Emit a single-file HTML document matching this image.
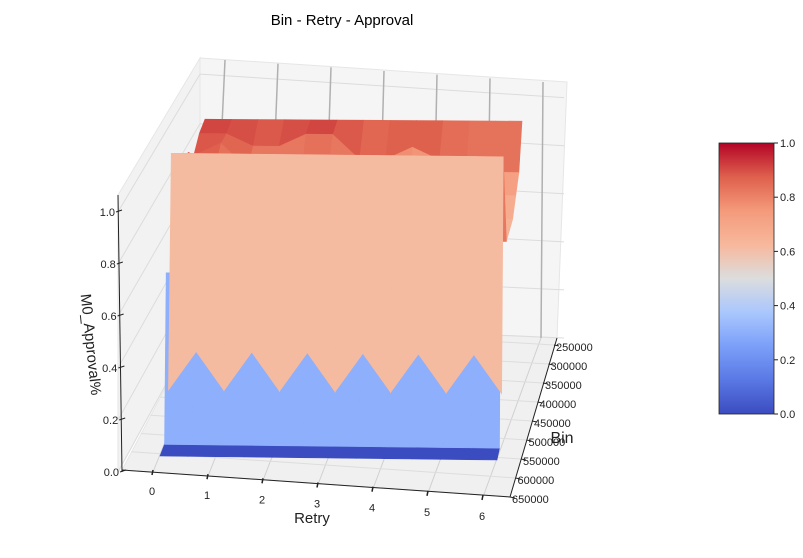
<!DOCTYPE html>
<html><head><meta charset="utf-8"><style>
body{margin:0;background:#fff;}
svg{display:block;font-family:"Liberation Sans","DejaVu Sans",sans-serif;}
</style></head><body>
<svg id="chart" width="803" height="558" viewBox="0 0 803 558">
<defs>
<linearGradient id="cw" x1="0" y1="1" x2="0" y2="0">
<stop offset="0" stop-color="#3b4cc0"/><stop offset="0.125" stop-color="#5a78e4"/><stop offset="0.25" stop-color="#7b9ff9"/><stop offset="0.375" stop-color="#aac7fd"/><stop offset="0.5" stop-color="#dcdddd"/><stop offset="0.625" stop-color="#f7b89c"/><stop offset="0.75" stop-color="#f49a7b"/><stop offset="0.875" stop-color="#de604d"/><stop offset="1" stop-color="#b40426"/>
</linearGradient>
</defs>
<text x="342" y="25" font-size="15" text-anchor="middle">Bin - Retry - Approval</text>
<g id="pane">
<polygon points="118,472 118,195 200,58 200,322" fill="#f2f2f2" stroke="#e6e6e6"/>
<polygon points="200,58 567,82 557,338 200,322" fill="#f5f5f5" stroke="#e6e6e6"/>
<polygon points="122,470 510,497 557,338 200,322" fill="#f0f0f0" stroke="#e6e6e6"/>
</g>
<g id="grid"></g>
<g id="surface"></g>
<g id="axes"></g>
<rect x="719" y="143" width="55" height="271" fill="url(#cw)" stroke="#222" stroke-width="0.8"/>
<g id="cbticks"></g>
<text x="312" y="523" font-size="15" text-anchor="middle" fill="#222">Retry</text>
<text x="562" y="443" font-size="16" text-anchor="middle" fill="#222">Bin</text>
<text x="0" y="0" font-size="15" text-anchor="middle" fill="#222" transform="translate(86,345) rotate(84)">M0_Approval%</text>
</svg>
<script>
const retries = [0,0.5,1,1.5,2,2.5,3,3.5,4,4.5,5,5.5,6];
const bins = [250000,300000,350000,400000,450000,500000,550000,575000,595000,610000,650000];
const approvalRow250 = [0.92,0.92,0.92,0.92,0.92,0.92,0.92,0.92,0.92,0.92,0.92,0.92,0.92];
const approvalRow300 = [0.9,0.9,0.85,0.85,0.9,0.9,0.8,0.8,0.85,0.8,0.75,0.75,0.75];
const approvalRow350 = [0.85,0.9,0.8,0.8,0.75,0.8,0.8,0.75,0.7,0.7,0.7,0.7,0.7];
const approvalRow400 = [0.9,0.85,0.8,0.8,0.75,0.7,0.7,0.7,0.7,0.65,0.65,0.65,0.65];
const approvalRow450 = [0.85,0.85,0.8,0.75,0.7,0.7,0.7,0.7,0.7,0.65,0.65,0.65,0.65];
const approvalRow500 = [0.7,0.7,0.7,0.7,0.7,0.7,0.7,0.7,0.7,0.65,0.65,0.65,0.65];
const approvalRow550 = [1,1,1,1,1,1,1,1,1,1,1,1,1];
const approvalRow575 = [0.16,0.3,0.16,0.3,0.16,0.3,0.16,0.3,0.16,0.3,0.16,0.3,0.16];
const approvalRow595 = [0.6,0.6,0.6,0.6,0.6,0.6,0.6,0.6,0.6,0.6,0.6,0.6,0.6];
const approvalRow610 = [0,0,0,0,0,0,0,0,0,0,0,0,0];
const approvalRow650 = [0,0,0,0,0,0,0,0,0,0,0,0,0];
const retryTicks = [0,1,2,3,4,5,6];
const zTicks = [0.0,0.2,0.4,0.6,0.8,1.0];
const zTickLabels = ["0.0","0.2","0.4","0.6","0.8","1.0"];
const binTicks = [250000,300000,350000,400000,450000,500000,550000,600000,650000];
const binTickLabels = ["250000","300000","350000","400000","450000","500000","550000","600000","650000"];
const cbTicks = [0.0,0.2,0.4,0.6,0.8,1.0];

const grid = [approvalRow250,approvalRow300,approvalRow350,approvalRow400,approvalRow450,approvalRow500,approvalRow550,approvalRow575,approvalRow595,approvalRow610,approvalRow650];
const NS='http://www.w3.org/2000/svg';
function mk(tag,attrs,parent){const e=document.createElementNS(NS,tag);for(const k in attrs)e.setAttribute(k,attrs[k]);parent.appendChild(e);return e;}
const bMin=250000,bMax=650000,rMax=6;
function proj(r,b,z){
  const u=r/rMax, t=(bMax-b)/(bMax-bMin);
  const fx=160+(497-160)*u, fy=456+(460-456)*u;
  const bx=205+(522-205)*u, by=340+(342-340)*u;
  const x=fx+(bx-fx)*t, y=fy+(by-fy)*t;
  const zs=285-45*t;
  return [x,y-z*zs];
}
const stops=[[0,[59,76,192]],[0.125,[90,120,228]],[0.25,[123,159,249]],[0.375,[170,199,253]],[0.5,[220,221,221]],[0.625,[247,184,156]],[0.75,[244,154,123]],[0.875,[222,96,77]],[1,[180,4,38]]];
function cw(v){v=Math.max(0,Math.min(1,v));for(let i=1;i<stops.length;i++){if(v<=stops[i][0]){const a=stops[i-1],b=stops[i],f=(v-a[0])/(b[0]-a[0]);const c=a[1].map((x,j)=>Math.round(x+(b[1][j]-x)*f));return `rgb(${c[0]},${c[1]},${c[2]})`;}}return 'rgb(180,4,38)';}

// grid lines
const g=document.getElementById('grid');
const zFrontL=[472,195], zBackL=[322,58], zBackR=[338,82];
zTicks.forEach(z=>{
  const f=z/1.065;
  const yl=zFrontL[0]+(zFrontL[1]-zFrontL[0])*f, yb=zBackL[0]+(zBackL[1]-zBackL[0])*f, yr=zBackR[0]+(zBackR[1]-zBackR[0])*f;
  let l=mk('line',{x1:118,y1:yl,x2:200,y2:yb,stroke:'#dcdcdc','stroke-width':1},g);
  
  
  l=mk('line',{x1:200,y1:yb,x2:564,y2:yr,stroke:'#dcdcdc','stroke-width':1},g);
  
  
});
retryTicks.forEach(r=>{
  const u=r/rMax;
  const xt=225+(543-225)*u, yt=60+(82-60)*u;
  const xf=153+(483-153)*u, yf=472+(497-472)*u;
  const xb=213+(541-213)*u, yb=322+(338-322)*u;
  let l=mk('line',{x1:xt,y1:yt,x2:xb,y2:yb,stroke:'#b0b0b0','stroke-width':1.5},g);
  
  
  l=mk('line',{x1:xb,y1:yb,x2:xf,y2:yf,stroke:'#d0d0d0','stroke-width':1},g);
  
  
});
binTicks.forEach(b=>{
  const t=(bMax-b)/(bMax-bMin);
  const xr=510+(554-510)*t, yr=497+(345-497)*t;
  const xl=122+(198-122)*t, yl=470+(324-470)*t;
  const l=mk('line',{x1:xl,y1:yl,x2:xr,y2:yr,stroke:'#dddddd','stroke-width':1},g);
  
  
});

// surface: sort cells by view depth (camera elevated, higher z = nearer)
const s=document.getElementById('surface');
const cells=[];
for(let i=0;i<bins.length-1;i++){
  for(let j=0;j<retries.length-1;j++){
    const z00=grid[i][j],z01=grid[i][j+1],z10=grid[i+1][j],z11=grid[i+1][j+1];
    const pts=[proj(retries[j],bins[i],z00),proj(retries[j+1],bins[i],z01),proj(retries[j+1],bins[i+1],z11),proj(retries[j],bins[i+1],z10)];
    const zm=(z00+z01+z10+z11)/4;
    const tm=(bMax-(bins[i]+bins[i+1])/2)/(bMax-bMin);
    cells.push({pts,zm,key:0.9*tm-0.3*zm});
  }
}
cells.sort((a,b)=>b.key-a.key);
cells.forEach(c=>{
  const col=cw(c.zm);
  const p=mk('polygon',{points:c.pts.map(q=>q.join(',')).join(' '),fill:col,stroke:col,'stroke-width':0.6},s);
  
  
});

// axes
const a=document.getElementById('axes');
let ln=mk('line',{x1:122,y1:470,x2:510,y2:497,stroke:'#222','stroke-width':1},a);


ln=mk('line',{x1:510,y1:497,x2:557,y2:338,stroke:'#222','stroke-width':1},a);


ln=mk('line',{x1:122,y1:472,x2:118,y2:195,stroke:'#222','stroke-width':1},a);


retryTicks.forEach(r=>{
  const u=r/rMax;
  const x=153+(483-153)*u, y=472+(497-472)*u;
  const tk=mk('line',{x1:x,y1:y-2,x2:x-1,y2:y+3,stroke:'#222','stroke-width':1.5},a);
  
  
  const t=mk('text',{x:x-1,y:y+23,'font-size':11,'text-anchor':'middle',fill:'#222'},a);
  t.textContent=String(r);
  
  
});
binTicks.forEach((b,i)=>{
  const t=(bMax-b)/(bMax-bMin);
  const x=510+(554-510)*t, y=497+(345-497)*t;
  const tk=mk('line',{x1:x,y1:y,x2:x+5,y2:y+1,stroke:'#222','stroke-width':1},a);
  
  
  const tx=mk('text',{x:x+2,y:y+6,'font-size':11,fill:'#222'},a);
  tx.textContent=binTickLabels[i];
  
  
});
zTicks.forEach((z,i)=>{
  const y=472-z*260, x=122-z*4;
  const tk=mk('line',{x1:x-2,y1:y,x2:x+4,y2:y-2,stroke:'#222','stroke-width':1},a);
  
  
  const tx=mk('text',{x:x-3,y:y+4,'font-size':11,'text-anchor':'end',fill:'#222'},a);
  tx.textContent=zTickLabels[i];
  
  
});
const cb=document.getElementById('cbticks');
cbTicks.forEach(v=>{
  const y=414-v*271;
  const tk=mk('line',{x1:774,y1:y,x2:778,y2:y,stroke:'#222','stroke-width':1},cb);
  
  
  const tx=mk('text',{x:780,y:y+4,'font-size':11,fill:'#222'},cb);
  tx.textContent=v.toFixed(1);
  
  
});
</script>
</body></html>
